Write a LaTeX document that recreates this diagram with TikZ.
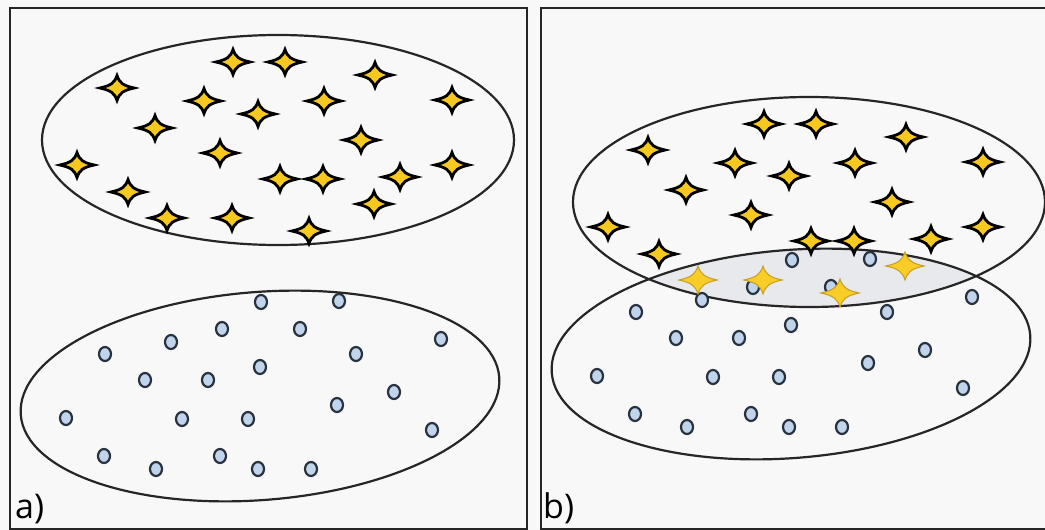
\documentclass[tikz,border=0pt]{standalone}
\usepackage{fontspec}
\newfontfamily\labelfont{Open Sans}
\definecolor{paper}{RGB}{248,248,248}
\definecolor{stargold}{RGB}{247,200,30}
\definecolor{glowgold}{RGB}{250,204,40}
\definecolor{glowedge}{RGB}{196,158,34}
\definecolor{dotblue}{RGB}{192,212,235}
\definecolor{dotedge}{RGB}{40,50,62}
\definecolor{overlapgrey}{RGB}{232,233,236}

\newcommand\starsmain{117/88, 233/62, 285/62, 375/75, 452/100, 204/101, 324/101,
  258/114, 155/128, 361/140, 220/153, 77/165, 452/165, 280/179, 323/179, 400/177, 128/192}
\newcommand\starslow{374/204, 167/218, 232/218, 309/231}
\newcommand\dotlist{261/302, 339/301, 222/329, 300/329, 171/342, 441/339, 105/354,
  356/354, 260/367, 145/380, 208/380, 394/392, 337/405, 66/418, 182/419, 248/419,
  432/430, 104/456, 220/456, 156/469, 258/469, 311/469}

\tikzset{
  sparkle/.pic={
    \path[pic actions] (17,0) .. controls (6,2.5) and (2.5,5) .. (0,12.5)
      .. controls (-2.5,5) and (-6,2.5) .. (-17,0)
      .. controls (-6,-2.5) and (-2.5,-5) .. (0,-12.5)
      .. controls (2.5,-5) and (6,-2.5) .. (17,0) -- cycle;
  },
  starmark/.style={fill=stargold, draw=black, line width=2.8pt},
  starglow/.style={fill=glowgold, draw=glowedge, line width=1pt, scale=1.12},
  dotmark/.style={fill=dotblue, draw=dotedge, line width=2.2pt},
  panelbox/.style={draw=black!85, line width=2.4pt},
  blob/.style={draw=black!85, line width=2.2pt},
  panellabel/.style={font=\labelfont\fontsize{34}{40}\selectfont, anchor=base west, inner sep=0pt}
}

\begin{document}
\begin{tikzpicture}[x=1pt, y=-1pt]
  \fill[paper] (0,0) rectangle (1045,530);
  \clip (0,0) rectangle (1045,530);

  % panel a
  \draw[panelbox] (10,8) rectangle (527,529);
  \draw[blob] (278,140) ellipse [x radius=236, y radius=105];
  \draw[blob, rotate around={4.5:(260,396)}] (260,396) ellipse [x radius=240, y radius=104];
  \foreach \x/\y in \dotlist
    \filldraw[dotmark] (\x,\y) ellipse [x radius=6, y radius=7];
  \foreach \x/\y in \starsmain
    \pic[starmark] at (\x,\y) {sparkle};
  \foreach \x/\y in \starslow
    \pic[starmark] at (\x,\y) {sparkle};
  \node[panellabel] (labela) at (15,518) {a)};

  % panel b
  \draw[panelbox] (541,8) rectangle (1055,529);
  \begin{scope}
    \clip (809,202) ellipse [x radius=236, y radius=105];
    \fill[overlapgrey, rotate around={4.5:(791,354)}] (791,354) ellipse [x radius=240, y radius=104];
  \end{scope}
  \draw[blob] (809,202) ellipse [x radius=236, y radius=105];
  \draw[blob, rotate around={4.5:(791,354)}] (791,354) ellipse [x radius=240, y radius=104];
  \begin{scope}[shift={(531,-42)}]
    \foreach \x/\y in \dotlist
      \filldraw[dotmark] (\x,\y) ellipse [x radius=6, y radius=7];
  \end{scope}
  \begin{scope}[shift={(531,62)}]
    \foreach \x/\y in \starsmain
      \pic[starmark] at (\x,\y) {sparkle};
    \foreach \x/\y in \starslow
      \pic[starglow] at (\x,\y) {sparkle};
  \end{scope}
  \node[panellabel] (labelb) at (543,518) {b)};
\end{tikzpicture}
\end{document}
